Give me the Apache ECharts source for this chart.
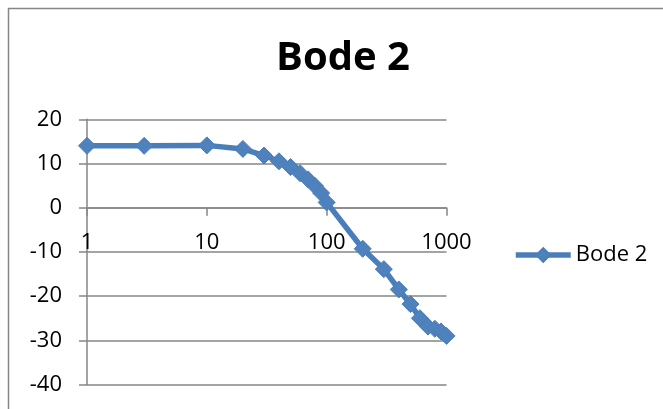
<!DOCTYPE html>
<html>
<head>
<meta charset="utf-8">
<script src="https://cdn.jsdelivr.net/npm/echarts@6/dist/echarts.min.js"></script>
<style>
html,body{margin:0;padding:0;background:#fff;}
#chart{width:663px;height:409px;}
</style>
</head>
<body>
<div id="chart"></div>
<script>
// Data
var titleText = "Bode 2";
var seriesName = "Bode 2";
var frequencies = [1, 3, 10, 20, 30, 40, 50, 60, 70, 80, 90, 100, 200, 300, 400, 500, 600, 700, 800, 900, 1000];
var gains = [14, 14, 14.1, 13.3, 11.8, 10.5, 9.2, 7.8, 6.4, 4.9, 3.3, 1.2, -9.3, -13.9, -18.5, -21.8, -25, -26.9, -27.4, -28, -29];
var yMin = -40, yMax = 20, yStep = 10;
var xMin = 1, xMax = 1000;
var xCrossesAt = 0;

var FONT = "'Open Sans', sans-serif";
var GRAY = "#868686";
var LINE = "#4A7EBB";
var MARK = "#4F81BD";

var points = frequencies.map(function (f, i) { return [f, gains[i]]; });

var chart = echarts.init(document.getElementById('chart'), null, {renderer: 'canvas'});
var gridTop = 119.3, gridBottom = 24.5;
chart.setOption({
  animation: false,
  backgroundColor: '#fff',
  graphic: [{
    type: 'rect',
    shape: {x: 8.5, y: 8.5, width: 800, height: 600},
    style: {fill: 'none', stroke: GRAY, lineWidth: 1.5},
    silent: true,
    z: -10
  }],
  title: {
    text: titleText,
    left: 276,
    top: 39,
    padding: 0,
    textStyle: {fontFamily: FONT, fontWeight: 'bold', fontSize: 40, color: '#000'}
  },
  legend: {
    data: [seriesName],
    left: 513,
    top: 244,
    padding: 0,
    itemWidth: 55,
    itemHeight: 17,
    itemGap: 5,
    lineStyle: {width: 5.5, color: LINE},
    itemStyle: {color: MARK},
    textStyle: {fontFamily: FONT, fontSize: 22, color: '#000'}
  },
  grid: {left: 87, right: 216.5, top: gridTop, bottom: gridBottom, outerBoundsMode: 'none'},
  xAxis: {
    type: 'log',
    logBase: 10,
    min: xMin,
    max: xMax,
    position: 'bottom',
    offset: 0,
    axisLine: {show: true, onZero: false, lineStyle: {color: GRAY, width: 1.5}},
    axisTick: {show: true, inside: false, length: 8, lineStyle: {color: GRAY, width: 1.5}},
    axisLabel: {margin: 24, fontFamily: FONT, fontSize: 22, color: '#000',
      formatter: function (v) { return String(v); }},
    splitLine: {show: false},
    minorTick: {show: false},
    minorSplitLine: {show: false}
  },
  yAxis: {
    type: 'value',
    min: yMin,
    max: yMax,
    interval: yStep,
    axisLine: {show: true, lineStyle: {color: GRAY, width: 1.5}},
    axisTick: {show: true, inside: false, length: 8, lineStyle: {color: GRAY, width: 1.5}},
    axisLabel: {margin: 25, fontFamily: FONT, fontSize: 22, color: '#000'},
    splitLine: {show: true, lineStyle: {color: GRAY, width: 1.5}}
  },
  series: [{
    name: seriesName,
    type: 'line',
    data: points,
    symbol: 'diamond',
    symbolSize: 17,
    showAllSymbol: true,
    lineStyle: {color: LINE, width: 5.5},
    itemStyle: {color: MARK, borderColor: LINE, borderWidth: 1},
    emphasis: {disabled: true}
  }]
});
// Move the x axis (line, ticks, labels) up so it crosses the y axis at 0,
// using the library's own y scale.
var zeroPx = chart.convertToPixel({yAxisIndex: 0}, xCrossesAt);
var bottomPx = chart.convertToPixel({yAxisIndex: 0}, yMin);
chart.setOption({xAxis: {offset: zeroPx - bottomPx}});
</script>
</body>
</html>
